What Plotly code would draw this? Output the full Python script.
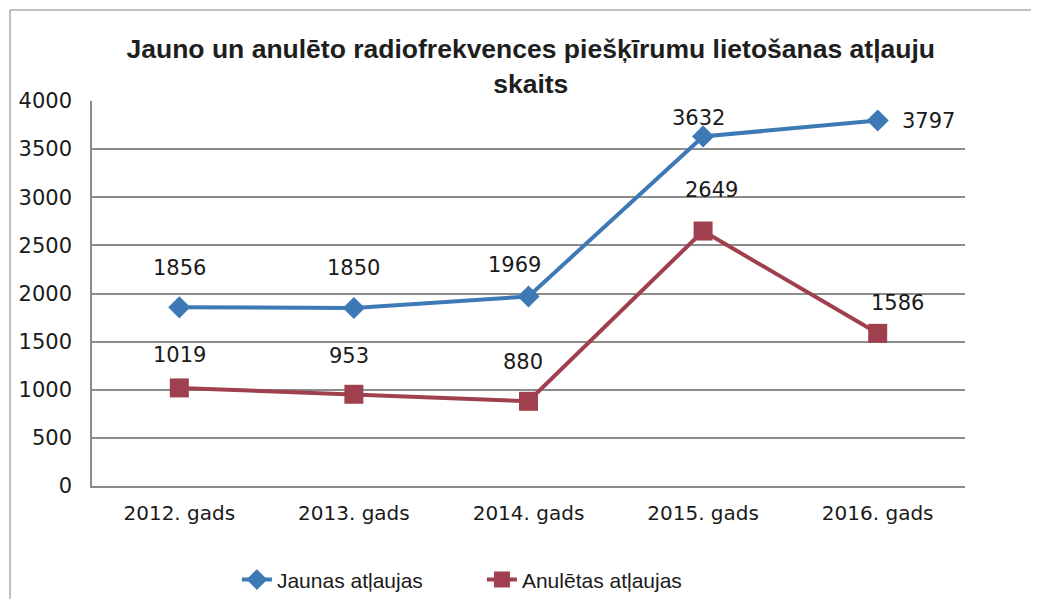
import plotly.graph_objects as go

categories = ["2012. gads", "2013. gads", "2014. gads", "2015. gads", "2016. gads"]
jaunas = [1856, 1850, 1969, 3632, 3797]
anuletas = [1019, 953, 880, 2649, 1586]
y_ticks = [0, 500, 1000, 1500, 2000, 2500, 3000, 3500, 4000]

blue = "#3D7AB5"
red = "#A0404F"

W, H = 1025, 591
L, T, PW, PH = 84, 93, 873, 385
R, B = W - L - PW, H - T - PH

fig = go.Figure()
fig.add_trace(go.Scatter(
    x=categories, y=jaunas, name="Jaunas atļaujas", mode="lines+markers",
    line=dict(color=blue, width=4),
    marker=dict(symbol="diamond", size=17, color=blue),
))
fig.add_trace(go.Scatter(
    x=categories, y=anuletas, name="Anulētas atļaujas", mode="lines+markers",
    line=dict(color=red, width=4),
    marker=dict(symbol="square", size=19, color=red),
))

lab_font = dict(family="DejaVu Sans", size=21, color="#1a1a1a")
blue_shift = [(0, 39), (0, 40), (-14, 31), (-5, 18), None]
for i, (c, v) in enumerate(zip(categories, jaunas)):
    if blue_shift[i] is None:
        fig.add_annotation(x=c, y=v, text=str(v), showarrow=False, font=lab_font,
                           xanchor="left", xshift=22, yshift=0)
    else:
        dx, dy = blue_shift[i]
        fig.add_annotation(x=c, y=v, text=str(v), showarrow=False, font=lab_font,
                           xshift=dx, yshift=dy)
red_shift = [(0, 33), (-5, 38), (-6, 39), (8, 41), (20, 30)]
for i, (c, v) in enumerate(zip(categories, anuletas)):
    dx, dy = red_shift[i]
    fig.add_annotation(x=c, y=v, text=str(v), showarrow=False, font=lab_font,
                       xshift=dx, yshift=dy)

frame_left = (2 - L) / PW
frame_top = 1 + (T - 2) / PH
frame_bottom = -B / PH
frame_right = (W - L) / PW

fig.update_layout(
    width=W, height=H,
    margin=dict(l=L, r=R, t=T, b=B, autoexpand=False),
    paper_bgcolor="white", plot_bgcolor="white",
    title=dict(
        text="<b>Jauno un anulēto radiofrekvences piešķīrumu lietošanas atļauju<br>skaits</b>",
        x=0.51, xanchor="center", y=0.915, yanchor="top",
        font=dict(family="Liberation Sans", size=26.5, color="#1e1e1e"),
    ),
    xaxis=dict(
        type="category", range=[-0.5, 4.5],
        showgrid=False, showline=True, linecolor="#8a8a8a", linewidth=1.5,
        ticks="", ticklabelstandoff=8,
        tickfont=dict(family="DejaVu Sans", size=20, color="#1a1a1a"),
    ),
    yaxis=dict(
        range=[0, 4000], tickvals=y_ticks,
        showgrid=True, gridcolor="#8c8c8c", gridwidth=1.5,
        showline=True, linecolor="#8a8a8a", linewidth=1.5, zeroline=False,
        ticks="", ticklabelstandoff=14,
        tickfont=dict(family="DejaVu Sans", size=21, color="#1a1a1a"),
    ),
    legend=dict(
        orientation="h", x=0.166, xanchor="left", y=-0.244, yanchor="middle",
        font=dict(family="Liberation Sans", size=21, color="#1a1a1a"),
        entrywidth=200, entrywidthmode="pixels",
    ),
    shapes=[
        dict(type="line", xref="paper", yref="paper", x0=frame_left, x1=frame_left,
             y0=frame_bottom, y1=frame_top, line=dict(color="#aaaaaa", width=1.5)),
        dict(type="line", xref="paper", yref="paper", x0=frame_left, x1=frame_right,
             y0=frame_top, y1=frame_top, line=dict(color="#aaaaaa", width=1.5)),
    ],
)

fig.write_html("out.html")
